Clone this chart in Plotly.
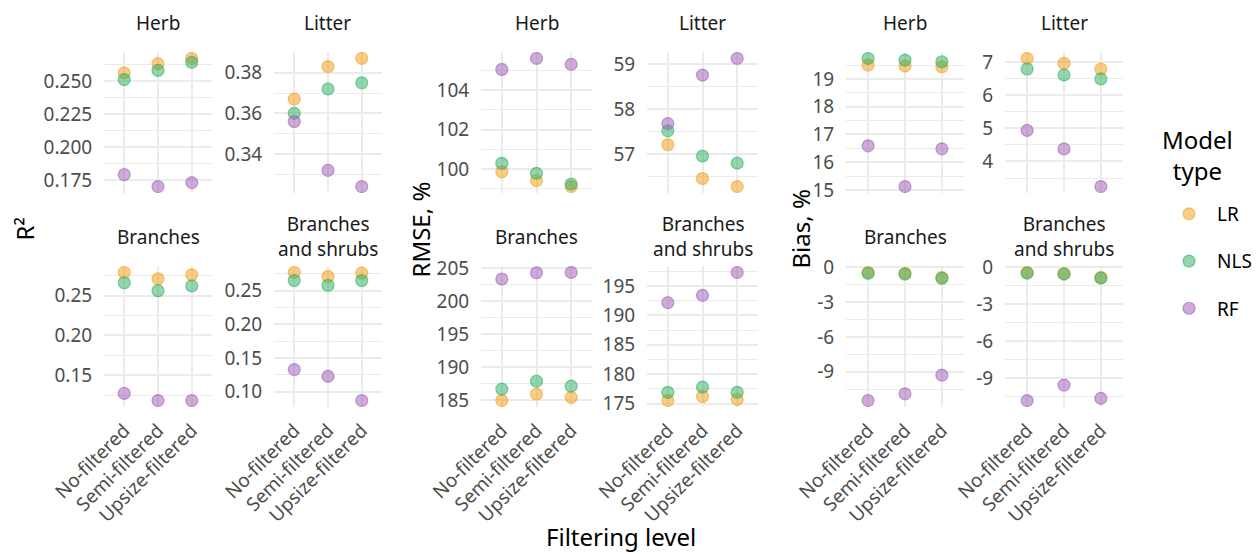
import plotly.graph_objects as go

# ---- data -------------------------------------------------------------
levels = ["No-filtered", "Semi-filtered", "Upsize-filtered"]
models = ["LR", "NLS", "RF"]
model_colors = {"LR": "243,156,18", "NLS": "39,174,96", "RF": "155,89,182"}
facets = ["Herb", "Litter", "Branches", "Branches<br>and shrubs"]

# R²
r2_herb = {"LR": [0.256, 0.263, 0.267], "NLS": [0.251, 0.258, 0.264], "RF": [0.179, 0.170, 0.173]}
r2_litter = {"LR": [0.367, 0.383, 0.387], "NLS": [0.360, 0.372, 0.375], "RF": [0.356, 0.332, 0.324]}
r2_branches = {"LR": [0.279, 0.271, 0.276], "NLS": [0.266, 0.256, 0.262], "RF": [0.127, 0.118, 0.118]}
r2_shrubs = {"LR": [0.277, 0.271, 0.276], "NLS": [0.265, 0.258, 0.265], "RF": [0.133, 0.123, 0.087]}

# RMSE, %
rmse_herb = {"LR": [99.86, 99.41, 99.11], "NLS": [100.29, 99.78, 99.24], "RF": [105.04, 105.60, 105.30]}
rmse_litter = {"LR": [57.21, 56.46, 56.28], "NLS": [57.52, 56.96, 56.80], "RF": [57.68, 58.76, 59.13]}
rmse_branches = {"LR": [184.9, 185.9, 185.4], "NLS": [186.65, 187.85, 187.1], "RF": [203.35, 204.3, 204.35]}
rmse_shrubs = {"LR": [175.5, 176.2, 175.7], "NLS": [176.9, 177.8, 176.9], "RF": [192.15, 193.4, 197.3]}

# Bias, %
bias_herb = {"LR": [19.50, 19.47, 19.44], "NLS": [19.74, 19.68, 19.62], "RF": [16.59, 15.12, 16.48]}
bias_litter = {"LR": [7.12, 6.97, 6.80], "NLS": [6.80, 6.62, 6.50], "RF": [4.94, 4.38, 3.24]}
bias_branches = {"LR": [-0.43, -0.51, -0.86], "NLS": [-0.51, -0.57, -0.94], "RF": [-11.49, -10.91, -9.29]}
bias_shrubs = {"LR": [-0.40, -0.48, -0.81], "NLS": [-0.46, -0.54, -0.86], "RF": [-10.80, -9.54, -10.62]}

# y-axis breaks per facet (values, decimals)
r2_ticks = [([0.175, 0.200, 0.225, 0.250], 3), ([0.34, 0.36, 0.38], 2),
            ([0.15, 0.20, 0.25], 2), ([0.10, 0.15, 0.20, 0.25], 2)]
rmse_ticks = [([100, 102, 104], 0), ([57, 58, 59], 0),
              ([185, 190, 195, 200, 205], 0), ([175, 180, 185, 190, 195], 0)]
bias_ticks = [([15, 16, 17, 18, 19], 0), ([4, 5, 6, 7], 0),
              ([-9, -6, -3, 0], 0), ([-9, -6, -3, 0], 0)]

metric_titles = ["R²", "RMSE, %", "Bias, %"]
metric_data = [
    [r2_herb, r2_litter, r2_branches, r2_shrubs],
    [rmse_herb, rmse_litter, rmse_branches, rmse_shrubs],
    [bias_herb, bias_litter, bias_branches, bias_shrubs],
]
metric_ticks = [r2_ticks, rmse_ticks, bias_ticks]

# ---- layout geometry (pixels) ------------------------------------------
W, H = 1257, 554
group_cols = [((104, 212), (274, 382)), ((481, 592), (647, 758)), ((846, 964), (1005, 1123))]
rows = [(52, 193), (266, 407)]
ytitle_x = [24, 420, 800]

FONT = "Noto Sans"
GRID = "#EBEBEB"
TICK_COL = "#4D4D4D"


def px_x(v):
    return v / W


def px_y(v):
    return 1 - v / H


fig = go.Figure()
layout = {}
annotations = []

n = 0
for g, (title, datas, ticks) in enumerate(zip(metric_titles, metric_data, metric_ticks)):
    for f, (facet, data, (tv, dec)) in enumerate(zip(facets, datas, ticks)):
        n += 1
        r, c = divmod(f, 2)
        x0, x1 = group_cols[g][c]
        y0, y1 = rows[r]
        xa = "xaxis" if n == 1 else f"xaxis{n}"
        ya = "yaxis" if n == 1 else f"yaxis{n}"
        xr = "x" if n == 1 else f"x{n}"
        yr = "y" if n == 1 else f"y{n}"

        for m in models:
            col = model_colors[m]
            fig.add_trace(go.Scatter(
                x=levels, y=data[m], mode="markers", name=m,
                legendgroup=m, showlegend=(n == 1),
                marker=dict(size=12, color=f"rgba({col},0.5)",
                            line=dict(color=f"rgba({col},0.55)", width=1.2)),
                xaxis=xr, yaxis=yr,
                hovertemplate="%{x}<br>%{y}<extra>" + m + "</extra>",
            ))

        vals = [v for m in models for v in data[m]]
        lo, hi = min(vals), max(vals)
        pad = (hi - lo) * 0.05
        step = tv[1] - tv[0]
        minor_vals = [t - step / 2 for t in tv] + [tv[-1] + step / 2]

        layout[xa] = dict(
            domain=[px_x(x0), px_x(x1)], anchor=yr, type="category", automargin=False,
            categoryorder="array", categoryarray=levels, range=[-0.6, 2.6],
            showgrid=True, gridcolor=GRID, gridwidth=2, zeroline=False, showline=False,
            showticklabels=(r == 1), tickangle=-45, ticks="outside", ticklen=4,
            tickcolor="rgba(0,0,0,0)", tickfont=dict(family=FONT, size=19, color=TICK_COL),
            fixedrange=True,
        )
        layout[ya] = dict(
            domain=[px_y(y1), px_y(y0)], anchor=xr, range=[lo - pad, hi + pad],
            automargin=False,
            tickmode="array", tickvals=tv, ticktext=[f"{v:.{dec}f}" for v in tv],
            showgrid=True, gridcolor=GRID, gridwidth=2, zeroline=False, showline=False,
            ticks="outside", ticklen=7, tickcolor="rgba(0,0,0,0)",
            tickfont=dict(family=FONT, size=19, color=TICK_COL),
            minor=dict(tickmode="array", tickvals=minor_vals, showgrid=True,
                       gridcolor=GRID, gridwidth=1, ticks=""),
            fixedrange=True,
        )

        # facet strip label
        annotations.append(dict(
            text=facet, x=px_x((x0 + x1) / 2), y=px_y(y0 - 29.5), xref="paper", yref="paper",
            xanchor="center", yanchor="middle", align="center", showarrow=False,
            font=dict(family=FONT, size=19, color="#1A1A1A"),
        ))

    # metric (y) title
    annotations.append(dict(
        text=title, x=px_x(ytitle_x[g]), y=px_y((rows[0][0] + rows[1][1]) / 2),
        xref="paper", yref="paper", xanchor="center", yanchor="middle",
        textangle=-90, showarrow=False, font=dict(family=FONT, size=24, color="black"),
    ))

# shared x title
annotations.append(dict(
    text="Filtering level", x=px_x(621), y=px_y(536), xref="paper", yref="paper",
    xanchor="center", yanchor="middle", showarrow=False,
    font=dict(family=FONT, size=24, color="black"),
))

# legend title
annotations.append(dict(
    text="Model<br>type", x=px_x(1197), y=px_y(155), xref="paper", yref="paper",
    xanchor="center", yanchor="middle", align="center", showarrow=False,
    font=dict(family=FONT, size=24, color="black"),
))

fig.update_layout(
    **layout,
    annotations=annotations,
    width=W, height=H, autosize=False,
    margin=dict(l=0, r=0, t=0, b=0),
    paper_bgcolor="white", plot_bgcolor="white",
    font=dict(family=FONT, size=19, color="black"),
    showlegend=True,
    legend=dict(
        x=1.0, y=px_y(195), xanchor="right", yanchor="top",
        font=dict(family=FONT, size=19, color="black"),
        tracegroupgap=19.5, itemwidth=46, bgcolor="rgba(0,0,0,0)",
    ),
)

fig.write_html("out.html")
